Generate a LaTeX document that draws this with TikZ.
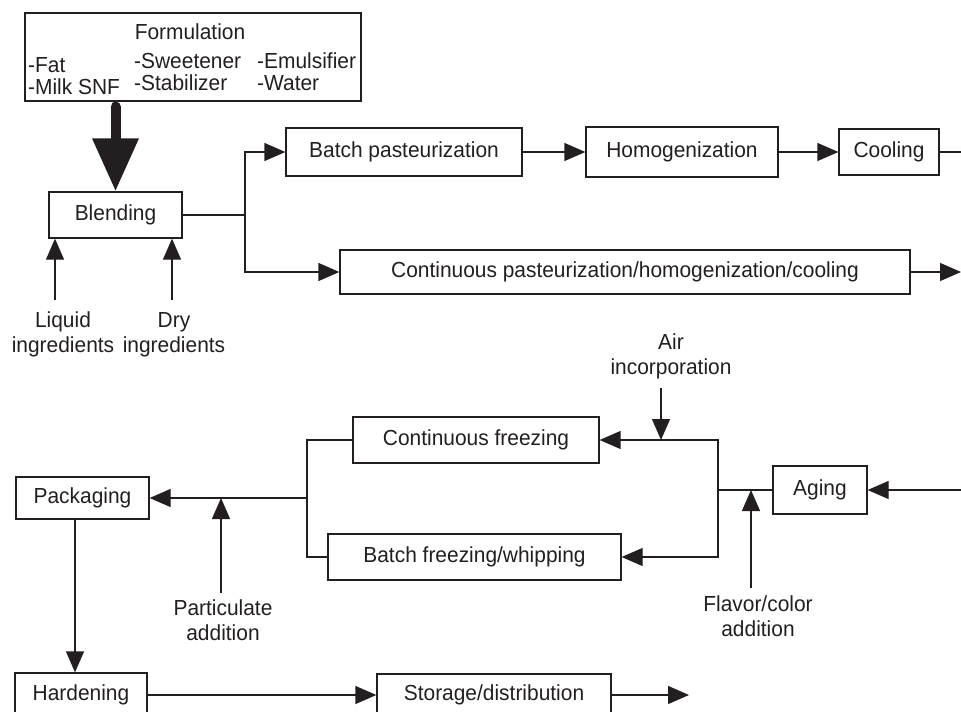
\documentclass[tikz,border=0pt]{standalone}
\usepackage{fontspec}
\setmainfont{Liberation Sans}[FakeStretch=0.96]
\usetikzlibrary{arrows.meta,calc}
\definecolor{ink}{RGB}{35,31,32}
\begin{document}
\begin{tikzpicture}[x=1pt,y=-1pt,
  every node/.style={font=\fontsize{21.8}{25}\selectfont, text=ink},
  box/.style={draw=ink, line width=1.3pt, inner sep=0pt},
  flow/.style={draw=ink, line width=1.3pt},
  arr/.style={flow, -{Triangle[length=21pt,width=18pt]}},
  lbl/.style={align=center, inner sep=0pt},
]
\useasboundingbox (0,0) rectangle (961,712);

% Formulation box and its contents
\node[box, minimum width=336pt, minimum height=88pt] (form) at (193,57) {};
\node[anchor=base, inner sep=0pt] (formtitle) at (190,39) {Formulation};
\node[anchor=base west, inner sep=0pt] (fat) at (28,72) {-Fat};
\node[anchor=base west, inner sep=0pt] (snf) at (28,94) {-Milk SNF};
\node[anchor=base west, inner sep=0pt] (sweet) at (134,68) {-Sweetener};
\node[anchor=base west, inner sep=0pt] (stab) at (134,90) {-Stabilizer};
\node[anchor=base west, inner sep=0pt] (emul) at (257,68) {-Emulsifier};
\node[anchor=base west, inner sep=0pt] (water) at (257,90) {-Water};

% Process boxes
\node[box, minimum width=133pt, minimum height=46pt] (blend) at (115.5,215) {Blending};
\node[box, minimum width=236pt, minimum height=48pt] (bpast) at (404,152) {Batch pasteurization};
\node[box, minimum width=192pt, minimum height=50pt] (homog) at (682,152) {Homogenization};
\node[box, minimum width=100pt, minimum height=46pt] (cool) at (889,152) {Cooling};
\node[box, minimum width=570pt, minimum height=44pt] (cpast) at (625,272) {Continuous pasteurization/homogenization/cooling};
\node[box, minimum width=246pt, minimum height=46pt] (cfreeze) at (476,440) {Continuous freezing};
\node[box, minimum width=293pt, minimum height=46pt] (bfreeze) at (474.5,557) {Batch freezing/whipping};
\node[box, minimum width=94pt, minimum height=48pt] (aging) at (820,490) {Aging};
\node[box, minimum width=133pt, minimum height=42pt] (pack) at (82.5,498) {Packaging};
\node[box, minimum width=132pt, minimum height=44pt] (hard) at (81,695) {Hardening};
\node[box, minimum width=234pt, minimum height=42pt] (store) at (494,695) {Storage/distribution};

% Input labels (anchored at the baseline of their last line)
\node[lbl, anchor=base] (liq) at (63,352) {Liquid\\ingredients};
\node[lbl, anchor=base] (dry) at (174,352) {Dry\\ingredients};
\node[lbl, anchor=base] (air) at (671,374) {Air\\incorporation};
\node[lbl, anchor=base] (flav) at (758,636) {Flavor/color\\addition};
\node[lbl, anchor=base] (part) at (223,640) {Particulate\\addition};

% Junctions and free ends
\coordinate (thk) at ($(form.south -| blend.north)+(0,5)$);
\coordinate (liqin) at (55,300);
\coordinate (dryin) at (172,300);
\coordinate (j1) at (245,215);
\coordinate (coolout) at (961,152);
\coordinate (cpout) at (961,272);
\coordinate (agein) at (961,490);
\coordinate (j2) at (718,490);
\coordinate (airin) at (661,388);
\coordinate (flavin) at (751,588);
\coordinate (j3) at (307,498);
\coordinate (partin) at (221,593);
\coordinate (vx) at (75,0);
\coordinate (storeout) at (689,695);

% Formulation into blending
\draw[ink, line width=10pt, line cap=round, -{Triangle[length=53pt,width=44pt]}] (thk) -- (blend.north);

% Ingredients into blending
\draw[arr] (liqin) -- (liqin |- blend.south);
\draw[arr] (dryin) -- (dryin |- blend.south);

% Pasteurization routes
\draw[flow] (blend.east) -- (j1);
\draw[arr] (j1) |- (bpast.west);
\draw[arr] (j1) |- (cpast.west);
\draw[arr] (bpast.east) -- (homog.west);
\draw[arr] (homog.east) -- (cool.west);
\draw[flow] (cool.east) -- (coolout);
\draw[arr] (cpast.east) -- (cpout);

% Aging and freezing
\draw[arr] (agein) -- (aging.east);
\draw[flow] (aging.west) -- (j2);
\draw[arr] (j2) |- (cfreeze.east);
\draw[arr] (j2) |- (bfreeze.east);
\draw[arr] (airin) -- (airin |- cfreeze.east);
\draw[arr] (flavin) -- (flavin |- j2);

% Freezers to packaging
\draw[flow] (cfreeze.west) -| (j3) |- (bfreeze.west);
\draw[arr] (j3) -- (pack.east);
\draw[arr] (partin) -- (partin |- pack.east);

% Hardening and storage
\draw[arr] (pack.south -| vx) -- (hard.north -| vx);
\draw[arr] (hard.east) -- (store.west);
\draw[arr] (store.east) -- (storeout);
\end{tikzpicture}
\end{document}
